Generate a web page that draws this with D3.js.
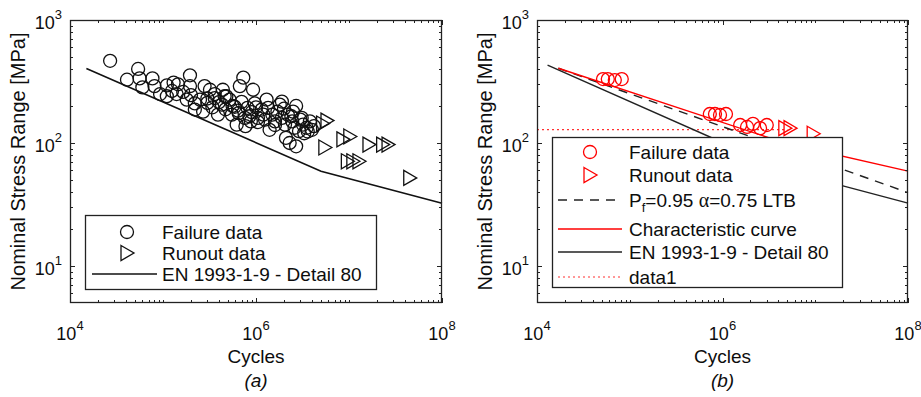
<!DOCTYPE html>
<html><head><meta charset="utf-8">
<script src="https://cdn.jsdelivr.net/npm/d3@7/dist/d3.min.js"></script>
<style>
body{margin:0;background:#fff;}
text{font-family:"Liberation Sans",Arial,sans-serif;fill:#0d0d0d;}
</style></head>
<body><svg id="c" width="921" height="397"></svg>
<script>
// ---------- DATA ----------
const xTicks = [1e4, 1e6, 1e8];
const yTicks = [10, 100, 1000];

// Panel (a)
const failN_a = [2.7e4,5.4e4,4.1e4,5.6e4,6e4,7.7e4,8.1e4,1.1e5,1.3e5,1.45e5,1.1e5,1.4e5,1.95e5,1.95e5,1.65e5,1.8e5,2.2e5,2.8e5,3.2e5,4.4e5,4.8e5,7.3e5,6.7e5,9.3e5,1.3e6,1.9e6,2.7e6,6.2e5,7.7e5,2.3e6,2.7e6,
 2.2e5,2.5e5,2.7e5,3e5,3.4e5,3.6e5,3.9e5,4.3e5,4.7e5,5.2e5,5.5e5,5.9e5,6.4e5,7e5,7.6e5,8.1e5,9e5,9.7e5,1.05e6,1.15e6,1.25e6,1.35e6,1.5e6,1.6e6,1.7e6,1.9e6,2.05e6,2.2e6,2.45e6,2.6e6,3e6,3.2e6,3.5e6,3.8e6,4.2e6,
 9.3e4,1.25e5,2.0e5,3.0e5,4.0e5,5.6e5,6.5e5,8.5e5,1.0e6,1.2e6,1.6e6,2.0e6,2.5e6,2.9e6,3.3e6,2.1e6,1.4e6,3.6e5,4.6e5,1.8e6,2.4e6,3.1e6,1.05e6,8.8e5,4.0e6,3.6e6];
const failS_a = [466,400,327,335,283,335,290,294,310,300,240,250,355,290,260,225,210,290,271,271,240,340,290,271,225,217,200,141,137,100,94,
 187,225,180,212,195,232,170,205,188,225,170,197,183,216,160,193,178,210,160,187,155,193,170,150,180,160,141,170,150,133,155,141,133,150,137,
 250,265,245,230,215,200,175,165,195,170,140,190,180,125,120,110,128,250,240,205,165,160,148,150,128,124];
const runN_a = [5.2e6,5.8e6,5.5e6,8.6e6,1.02e7,1.64e7,2.3e7,2.63e7,9.6e6,1.1e7,1.28e7,4.5e7];
const runS_a = [144,152,92,107,113,97,97,97,71,71,71,52];
const enN_a = [1.5e4, 5e6, 1e8];
const enS_a = [404, 59, 32.4];

// Panel (b)
const failN_b = [5.15e4,5.8e4,6.9e4,8.2e4,7.3e5,8.3e5,9.4e5,1.09e6,1.55e6,1.84e6,2.13e6,2.54e6,3.0e6];
const failS_b = [331,331,325,331,172,172,169,172,140,135,143,132,140];
const runN_b = [4.7e6,5.35e6,9.5e6];
const runS_b = [132,132,119];
const pfN_b = [1.7e4, 1e8];
const pfS_b = [405, 39.5];
const charN_b = [1.7e4, 4.7e6, 1e8];
const charS_b = [405, 100, 59];
const enN_b = [1.3e4, 5e6, 1e8];
const enS_b = [429, 59, 32.4];
const data1N_b = [1e4, 5e6];
const data1S_b = [128.5, 128.5];

// ---------- DRAW ----------
const svg = d3.select("#c");
svg.append("rect").attr("width",921).attr("height",397).attr("fill","#fff");
const AX = "#222";

function zip(a,b){return a.map((v,i)=>[v,b[i]]);}

function panel(x0, x1, label){
  const x = d3.scaleLog().domain([1e4,1e8]).range([x0,x1]);
  const y = d3.scaleLog().domain([5,1000]).range([303,20]);
  const g = svg.append("g");
  const plot = g.append("g");
  const minX = [], minY = [];
  for(let e=4;e<8;e++) for(let k=2;k<=10;k++){ const v=k*Math.pow(10,e); if(!xTicks.includes(v)) minX.push(v); }
  for(let e=0;e<3;e++) for(let k=1;k<=10;k++){ const v=k*Math.pow(10,e); if(v>5 && v<1000 && !yTicks.includes(v)) minY.push(v); }
  const tk = g.append("g").attr("stroke",AX).attr("stroke-width",1);
  minX.forEach(v=>{ const px=Math.round(x(v))+0.5;
    tk.append("line").attr("x1",px).attr("x2",px).attr("y1",303).attr("y2",300);
    tk.append("line").attr("x1",px).attr("x2",px).attr("y1",20).attr("y2",23);});
  xTicks.forEach(v=>{ const px=Math.round(x(v))+0.5;
    tk.append("line").attr("x1",px).attr("x2",px).attr("y1",303).attr("y2",298);
    tk.append("line").attr("x1",px).attr("x2",px).attr("y1",20).attr("y2",25);});
  minY.forEach(v=>{ const py=Math.round(y(v))+0.5;
    tk.append("line").attr("x1",x0).attr("x2",x0+3).attr("y1",py).attr("y2",py);
    tk.append("line").attr("x1",x1).attr("x2",x1-3).attr("y1",py).attr("y2",py);});
  yTicks.forEach(v=>{ const py=Math.round(y(v))+0.5;
    tk.append("line").attr("x1",x0).attr("x2",x0+5).attr("y1",py).attr("y2",py);
    tk.append("line").attr("x1",x1).attr("x2",x1-5).attr("y1",py).attr("y2",py);});
  g.append("rect").attr("x",x0+0.5).attr("y",20.5).attr("width",x1-x0-1).attr("height",282)
    .attr("fill","none").attr("stroke",AX).attr("stroke-width",1.3);
  xTicks.forEach(v=>{
    const t=g.append("text").attr("x",x(v)).attr("y",340).attr("text-anchor","middle").style("font-size","18px");
    t.append("tspan").text("10");
    t.append("tspan").attr("dy",-10).style("font-size","13px").text(Math.round(Math.log10(v)));
  });
  yTicks.forEach(v=>{
    const t=g.append("text").attr("x",x0-8).attr("y",y(v)+9).attr("text-anchor","end").style("font-size","18px");
    t.append("tspan").text("10");
    t.append("tspan").attr("dy",-10).style("font-size","13px").text(Math.round(Math.log10(v)));
  });
  g.append("text").attr("x",(x0+x1)/2).attr("y",363).attr("text-anchor","middle").style("font-size","19px").text("Cycles");
  g.append("text").attr("x",(x0+x1)/2).attr("y",387).attr("text-anchor","middle").style("font-size","19px").style("font-style","italic").text(label);
  g.append("text").attr("transform",`translate(${x0-45},161.5) rotate(-90)`).attr("text-anchor","middle")
    .style("font-size","20px").text("Nominal Stress Range [MPa]");
  return {x,y,g,plot};
}

const tri = "M-6,-7.5L7,0L-6,7.5Z";
function line(p, N, S, color, w, dash){
  p.plot.append("path").attr("d", d3.line().x(d=>p.x(d[0])).y(d=>p.y(d[1]))(zip(N,S)))
    .attr("fill","none").attr("stroke",color).attr("stroke-width",w).attr("stroke-dasharray",dash||null);
}
function circles(p, N, S, color){
  p.plot.append("g").selectAll("circle").data(zip(N,S)).join("circle")
    .attr("cx",d=>p.x(d[0])).attr("cy",d=>p.y(d[1])).attr("r",6.5)
    .attr("fill","none").attr("stroke",color).attr("stroke-width",1.3);
}
function triangles(p, N, S, color){
  p.plot.append("g").selectAll("path").data(zip(N,S)).join("path")
    .attr("transform",d=>`translate(${p.x(d[0])},${p.y(d[1])})`).attr("d",tri)
    .attr("fill","none").attr("stroke",color).attr("stroke-width",1.3);
}

// Panel a
const A = panel(70, 442, "(a)");
line(A, enN_a, enS_a, "#111", 1.6);
circles(A, failN_a, failS_a, "#111");
triangles(A, runN_a, runS_a, "#111");
{
  const L = A.g.append("g");
  L.append("rect").attr("x",85.5).attr("y",215.5).attr("width",291).attr("height",74).attr("fill","#fff").attr("stroke",AX).attr("stroke-width",1.3);
  L.append("circle").attr("cx",127).attr("cy",232).attr("r",6.5).attr("fill","none").attr("stroke","#111").attr("stroke-width",1.3);
  L.append("path").attr("transform","translate(127,253)").attr("d",tri).attr("fill","none").attr("stroke","#111").attr("stroke-width",1.3);
  L.append("line").attr("x1",92).attr("x2",157).attr("y1",274).attr("y2",274).attr("stroke","#111").attr("stroke-width",1.5);
  [["Failure data",232],["Runout data",253],["EN 1993-1-9 - Detail 80",274]].forEach(([t,yy])=>
    L.append("text").attr("x",162).attr("y",yy+7).style("font-size","19px").text(t));
}

// Panel b
const B = panel(537, 908, "(b)");
line(B, data1N_b, data1S_b, "#ff3030", 1.2, "2,3");
line(B, enN_b, enS_b, "#222", 1.4);
line(B, pfN_b, pfS_b, "#222", 1.4, "9,7");
line(B, charN_b, charS_b, "#ff0000", 1.4);
circles(B, failN_b, failS_b, "#ff0000");
triangles(B, runN_b, runS_b, "#ff0000");
{
  const L = B.g.append("g");
  L.append("rect").attr("x",552.5).attr("y",137.5).attr("width",290).attr("height",150).attr("fill","#fff").attr("stroke",AX).attr("stroke-width",1.3);
  L.append("circle").attr("cx",590).attr("cy",152).attr("r",6.5).attr("fill","none").attr("stroke","#ff0000").attr("stroke-width",1.3);
  L.append("path").attr("transform","translate(590,175)").attr("d",tri).attr("fill","none").attr("stroke","#ff0000").attr("stroke-width",1.3);
  L.append("line").attr("x1",558).attr("x2",622).attr("y1",200).attr("y2",200).attr("stroke","#222").attr("stroke-width",1.4).attr("stroke-dasharray","9,7");
  L.append("line").attr("x1",558).attr("x2",622).attr("y1",229).attr("y2",229).attr("stroke","#ff0000").attr("stroke-width",1.4);
  L.append("line").attr("x1",558).attr("x2",622).attr("y1",252).attr("y2",252).attr("stroke","#222").attr("stroke-width",1.4);
  L.append("line").attr("x1",558).attr("x2",622).attr("y1",277).attr("y2",277).attr("stroke","#ff3030").attr("stroke-width",1.2).attr("stroke-dasharray","2,3");
  L.append("text").attr("x",629).attr("y",159).style("font-size","19px").text("Failure data");
  L.append("text").attr("x",629).attr("y",182).style("font-size","19px").text("Runout data");
  const t = L.append("text").attr("x",629).attr("y",207).style("font-size","19px");
  t.append("tspan").text("P");
  t.append("tspan").attr("dy",5).style("font-size","13px").text("f");
  t.append("tspan").attr("dy",-5).text("=0.95 ");
  t.append("tspan").style("font-family","'Liberation Serif','Times New Roman',serif").style("font-size","20px").text("α");
  t.append("tspan").text("=0.75 LTB");
  L.append("text").attr("x",629).attr("y",236).style("font-size","19px").text("Characteristic curve");
  L.append("text").attr("x",629).attr("y",259).style("font-size","19px").text("EN 1993-1-9 - Detail 80");
  L.append("text").attr("x",629).attr("y",284).style("font-size","19px").text("data1");
}
</script></body></html>
